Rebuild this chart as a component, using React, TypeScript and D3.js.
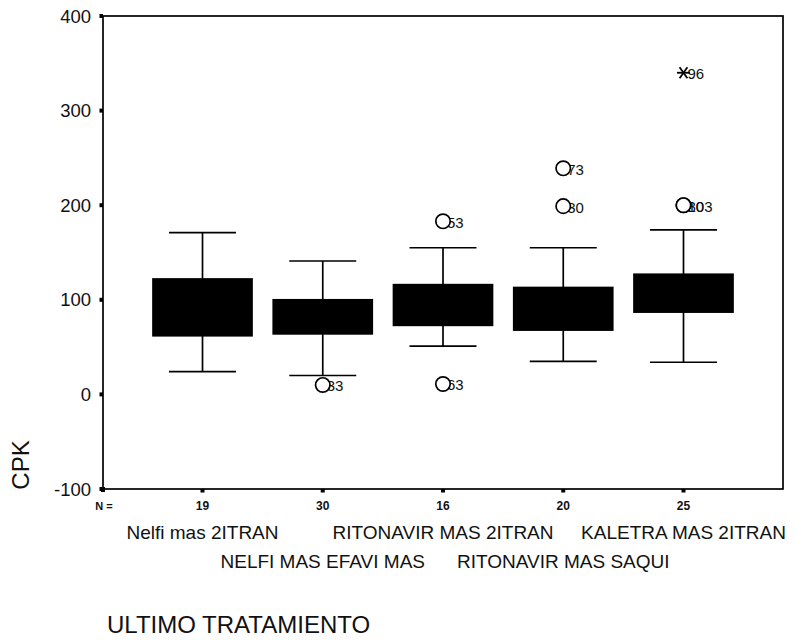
import React from "react";
import * as d3 from "d3";

const categories = [
  "Nelfi mas 2ITRAN",
  "NELFI MAS EFAVI MAS",
  "RITONAVIR MAS 2ITRAN",
  "RITONAVIR MAS SAQUI",
  "KALETRA MAS 2ITRAN",
];
const nValues = [19, 30, 16, 20, 25];
const whiskerHigh = [171, 141, 155, 155, 174];
const q3 = [122, 100, 116, 113, 127];
const median = [92, 82, 95, 90, 106];
const q1 = [62, 64, 73, 68, 87];
const whiskerLow = [24, 20, 51, 35, 34];

const outlierCat = [1, 2, 2, 3, 3, 4, 4, 4];
const outlierValue = [10, 183, 11, 239, 199, 200, 200, 340];
const outlierLabel = ["33", "53", "63", "73", "30", "80", "103", "96"];
const outlierKind = ["o", "o", "o", "o", "o", "o", "o", "*"];

const yTicks = [-100, 0, 100, 200, 300, 400];

const W = 797;
const H = 640;
const left = 103;
const right = 783;
const top = 16;
const bottom = 489;
const FONT = "'Liberation Sans', Arial, sans-serif";

export default function App() {
  const x = d3.scalePoint<string>().domain(categories).range([left, right]).padding(0.8275);
  const y = d3.scaleLinear().domain([-100, 400]).range([bottom, top]);
  const boxW = 99;
  const capW = 67;

  return (
    <svg width={W} height={H} style={{ position: "absolute", left: 0, top: 0, background: "#fff" }}>
      <rect x={0} y={0} width={W} height={H} fill="#fff" />
      <rect x={left} y={top} width={right - left} height={bottom - top} fill="none" stroke="#000" strokeWidth={1.7} />
      {yTicks.map((t) => (
        <g key={t}>
          <rect x={left - 3.5} y={y(t) - 2} width={3.5} height={4} fill="#000" />
          <text x={91} y={y(t)} textAnchor="end" dominantBaseline="central" fontFamily={FONT} fontSize={18.5} fill="#111">
            {t}
          </text>
        </g>
      ))}
      <text
        transform={`translate(${29},${465}) rotate(-90)`}
        textAnchor="middle"
        fontFamily={FONT}
        fontSize={24}
        fill="#111"
      >
        CPK
      </text>
      <rect x={left - 2} y={bottom - 2} width={4} height={5} fill="#000" />
      <text x={104} y={506} textAnchor="middle" dominantBaseline="central" fontFamily={FONT} fontSize={11} fontWeight="bold" fill="#111">
        N =
      </text>
      {categories.map((c, i) => (
        <g key={c}>
          <rect x={(x(c) as number) - 2} y={bottom} width={4} height={3.5} fill="#000" />
          <text x={x(c)} y={506} textAnchor="middle" dominantBaseline="central" fontFamily={FONT} fontSize={12} fontWeight="bold" fill="#111">
            {nValues[i]}
          </text>
          <text x={x(c)} y={i % 2 === 0 ? 539 : 568} textAnchor="middle" fontFamily={FONT} fontSize={19} fill="#111">
            {c}
          </text>
        </g>
      ))}
      {categories.map((c, i) => {
        const cx = x(c) as number;
        return (
          <g key={"b" + c} stroke="#000" strokeWidth={1.7}>
            <line x1={cx} x2={cx} y1={y(whiskerHigh[i])} y2={y(q3[i])} />
            <line x1={cx} x2={cx} y1={y(q1[i])} y2={y(whiskerLow[i])} />
            <line x1={cx - capW / 2} x2={cx + capW / 2} y1={y(whiskerHigh[i])} y2={y(whiskerHigh[i])} />
            <line x1={cx - capW / 2} x2={cx + capW / 2} y1={y(whiskerLow[i])} y2={y(whiskerLow[i])} />
            <rect x={cx - boxW / 2} y={y(q3[i])} width={boxW} height={y(q1[i]) - y(q3[i])} fill="#000" />
            <line x1={cx - boxW / 2} x2={cx + boxW / 2} y1={y(median[i])} y2={y(median[i])} stroke="#000" />
          </g>
        );
      })}
      {outlierValue.map((v, k) => {
        const cx = x(categories[outlierCat[k]]) as number;
        return (
          <text key={"l" + k} x={cx + 4} y={y(v) + 1} dominantBaseline="central" fontFamily={FONT} fontSize={15} fill="#111">
            {outlierLabel[k]}
          </text>
        );
      })}
      {outlierValue.map((v, k) => {
        const cx = x(categories[outlierCat[k]]) as number;
        const cy = y(v);
        if (outlierKind[k] === "*") {
          const r = 6.5;
          return (
            <g key={"m" + k} stroke="#000" strokeWidth={1.8}>
              <line x1={cx - r} x2={cx + r} y1={cy} y2={cy} />
              <line x1={cx - r * 0.6} x2={cx + r * 0.6} y1={cy - r * 0.85} y2={cy + r * 0.85} />
              <line x1={cx - r * 0.6} x2={cx + r * 0.6} y1={cy + r * 0.85} y2={cy - r * 0.85} />
            </g>
          );
        }
        return <circle key={"m" + k} cx={cx} cy={cy} r={7.2} fill="#fff" stroke="#000" strokeWidth={1.7} />;
      })}
      <text x={107} y={633} fontFamily={FONT} fontSize={24} fill="#111">
        ULTIMO TRATAMIENTO
      </text>
    </svg>
  );
}
